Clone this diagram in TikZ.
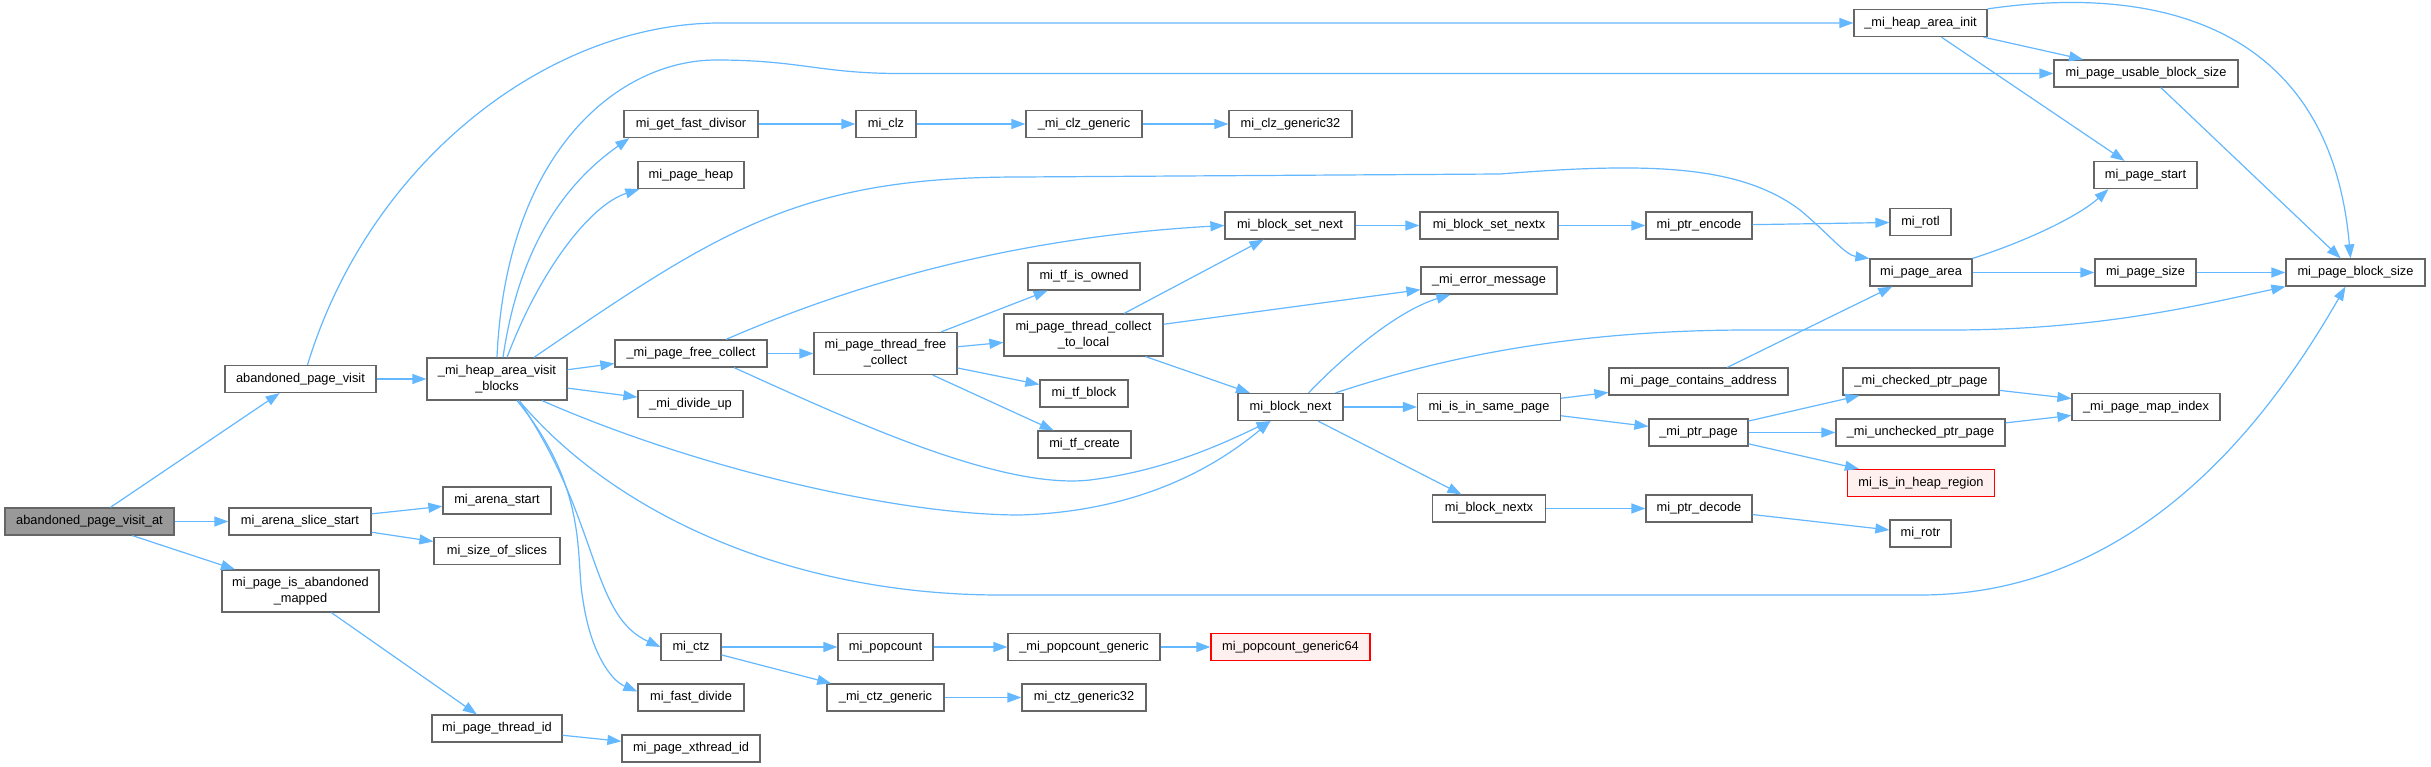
\documentclass[tikz,border=0pt]{standalone}
\usepackage{fontspec}
\setmainfont{Liberation Sans}
\usepackage{xcolor}
\usepackage{tikz}
\usetikzlibrary{arrows.meta}

\definecolor{edgeblue}{HTML}{63B8FF}
\definecolor{boxgray}{HTML}{666666}
\definecolor{rootgray}{HTML}{999999}
\definecolor{truncfill}{HTML}{FFF0F0}

\begin{document}
\begin{tikzpicture}[
  x=1pt, y=-1pt,
  font=\fontsize{12.8}{16}\selectfont,
  fn/.style={
    rectangle,
    draw=boxgray,
    fill=white,
    line width=1.2pt,
    inner xsep=0pt,
    inner ysep=0pt,
    minimum height=27pt,
    align=center
  },
  twoline/.style={fn, minimum height=42pt},
  root/.style={fn, fill=rootgray},
  trunc/.style={fn, draw=red, fill=truncfill},
  call/.style={
    -{Triangle[length=14pt, width=10pt]},
    line width=1.2pt,
    draw=edgeblue
  }
]
\useasboundingbox[fill=white] (0,0) rectangle (2431,767);

\node[root, minimum width=169pt] (apva) at (89.5,521.5) {abandoned\_page\_visit\_at};
\node[fn, minimum width=151pt] (apv) at (300.5,379) {abandoned\_page\_visit};
\node[fn, minimum width=142pt] (mass) at (300,521.5) {mi\_arena\_slice\_start};
\node[twoline, minimum width=157pt] (mpiam) at (300.5,591) {mi\_page\_is\_abandoned\\\_mapped};
\node[twoline, minimum width=140pt] (hav) at (497,379) {\_mi\_heap\_area\_visit\\\_blocks};
\node[fn, minimum width=108pt] (arst) at (497,500.5) {mi\_arena\_start};
\node[fn, minimum width=126pt] (sos) at (497,551) {mi\_size\_of\_slices};
\node[fn, minimum width=130pt] (ptid) at (497,728.5) {mi\_page\_thread\_id};

\node[fn, minimum width=134pt] (gfd) at (691,124) {mi\_get\_fast\_divisor};
\node[fn, minimum width=106pt] (pheap) at (691,175) {mi\_page\_heap};
\node[fn, minimum width=152pt] (pfc) at (691,353.5) {\_mi\_page\_free\_collect};
\node[fn, minimum width=105pt] (dup) at (690.5,404) {\_mi\_divide\_up};
\node[fn, minimum width=60pt] (ctz) at (691,647) {mi\_ctz};
\node[fn, minimum width=106pt] (fdiv) at (691,697.5) {mi\_fast\_divide};
\node[fn, minimum width=138pt] (pxtid) at (691,748.5) {mi\_page\_xthread\_id};

\node[fn, minimum width=60pt] (clz) at (886,124) {mi\_clz};
\node[twoline, minimum width=143pt] (ptfc) at (885.5,353.5) {mi\_page\_thread\_free\\\_collect};
\node[fn, minimum width=95pt] (popc) at (885.5,647) {mi\_popcount};
\node[fn, minimum width=117pt] (ctzg) at (885.5,697.5) {\_mi\_ctz\_generic};

\node[fn, minimum width=116pt] (clzg) at (1084,124) {\_mi\_clz\_generic};
\node[fn, minimum width=112pt] (tfown) at (1084,276.5) {mi\_tf\_is\_owned};
\node[twoline, minimum width=159pt] (ptctl) at (1083.5,335) {mi\_page\_thread\_collect\\\_to\_local};
\node[fn, minimum width=88pt] (tfblk) at (1084,393.5) {mi\_tf\_block};
\node[fn, minimum width=93pt] (tfcr) at (1084.5,444.5) {mi\_tf\_create};
\node[fn, minimum width=152pt] (popcg) at (1084,647) {\_mi\_popcount\_generic};
\node[fn, minimum width=124pt] (ctzg32) at (1084,697.5) {mi\_ctz\_generic32};

\node[fn, minimum width=123pt] (clzg32) at (1290.5,124) {mi\_clz\_generic32};
\node[fn, minimum width=130pt] (bsn) at (1290,225.5) {mi\_block\_set\_next};
\node[fn, minimum width=105pt] (bnext) at (1290.5,407) {mi\_block\_next};
\node[trunc, minimum width=159pt] (popcg64) at (1290.5,647) {mi\_popcount\_generic64};

\node[fn, minimum width=138pt] (bsnx) at (1489,225.5) {mi\_block\_set\_nextx};
\node[fn, minimum width=136pt] (errm) at (1489,280.5) {\_mi\_error\_message};
\node[fn, minimum width=143pt] (isp) at (1489,407) {mi\_is\_in\_same\_page};
\node[fn, minimum width=113pt] (bnx) at (1489,508.5) {mi\_block\_nextx};

\node[fn, minimum width=106pt] (penc) at (1699,225.5) {mi\_ptr\_encode};
\node[fn, minimum width=179pt] (pca) at (1698.5,381.5) {mi\_page\_contains\_address};
\node[fn, minimum width=99pt] (ptrp) at (1698.5,432.5) {\_mi\_ptr\_page};
\node[fn, minimum width=106pt] (pdec) at (1699,508.5) {mi\_ptr\_decode};

\node[fn, minimum width=133pt] (hinit) at (1920.5,23) {\_mi\_heap\_area\_init};
\node[fn, minimum width=61pt] (rotl) at (1920.5,222) {mi\_rotl};
\node[fn, minimum width=102pt] (parea) at (1921,272.5) {mi\_page\_area};
\node[fn, minimum width=156pt] (chk) at (1921,381.5) {\_mi\_checked\_ptr\_page};
\node[fn, minimum width=169pt] (unchk) at (1920.5,432.5) {\_mi\_unchecked\_ptr\_page};
\node[trunc, minimum width=147pt] (ihr) at (1921,483) {mi\_is\_in\_heap\_region};
\node[fn, minimum width=61pt] (rotr) at (1920.5,533.5) {mi\_rotr};

\node[fn, minimum width=184pt] (publ) at (2146,73.5) {mi\_page\_usable\_block\_size};
\node[fn, minimum width=103pt] (pstart) at (2145.5,175) {mi\_page\_start};
\node[fn, minimum width=101pt] (psize) at (2145.5,272.5) {mi\_page\_size};
\node[fn, minimum width=148pt] (pmi) at (2146,407) {\_mi\_page\_map\_index};
\node[fn, minimum width=139pt] (pbs) at (2355.5,272.5) {mi\_page\_block\_size};

% calls out of the root
\draw[call] (apva) -- (apv);
\draw[call] (apva) -- (mass);
\draw[call] (apva) -- (mpiam);
\draw[call] ([xshift=7pt]apv.north) .. controls (370,160) and (550,23) .. (720,23) -- (hinit);
\draw[call] (apv) -- (hav);
\draw[call] (mass) -- (arst);
\draw[call] (mass) -- (sos);
\draw[call] (mpiam) -- (ptid);
\draw[call] (ptid) -- (pxtid);

% visit blocks
\draw[call] (hav.north) .. controls (506,150) and (620,60) .. (716,60) .. controls (800,60) and (820,73.5) .. (900,73.5) -- (publ);
\draw[call] ([xshift=6pt]hav.north) .. controls (520,240) and (570,180) .. ([xshift=6pt]gfd.south west);
\draw[call] ([xshift=10pt]hav.north) .. controls (540,270) and (590,205) .. ([xshift=2pt]pheap.south west);
\draw[call] ([xshift=37pt]hav.north) .. controls (720,230) and (800,177) .. (1020,177) -- (1500,174) .. controls (1650,162) and (1740,165) .. (1800,210) .. controls (1830,235) and (1845,255) .. (parea.north west);
\draw[call] (hav) -- (pfc);
\draw[call] (hav) -- (dup);
\draw[call] ([xshift=45pt]hav.south) .. controls (700,470) and (900,515) .. (1020,515) .. controls (1120,512) and (1200,480) .. ([xshift=-20pt]bnext.south);
\draw[call] ([xshift=22pt]hav.south) .. controls (620,520) and (800,595) .. (1000,595) -- (1920,595) .. controls (2150,595) and (2280,400) .. ([xshift=-10pt]pbs.south);
\draw[call] ([xshift=22pt]hav.south) .. controls (600,520) and (590,615) .. (ctz.west);
\draw[call] ([xshift=20pt]hav.south) .. controls (590,490) and (575,560) .. (583,600) .. controls (590,650) and (610,680) .. ([yshift=6pt]fdiv.west);

\draw[call] ([xshift=35pt]pfc.north) .. controls (840,290) and (1000,238) .. (bsn.west);
\draw[call] (pfc) -- (ptfc);
\draw[call] ([xshift=43pt]pfc.south) .. controls (850,420) and (1000,490) .. (1090,480) .. controls (1170,470) and (1230,440) .. ([xshift=-20pt]bnext.south);

\draw[call] (ptfc) -- (tfown);
\draw[call] (ptfc) -- (ptctl);
\draw[call] (ptfc) -- (tfblk);
\draw[call] (ptfc) -- (tfcr);
\draw[call] (ptctl) -- (bsn);
\draw[call] (ptctl) -- (errm);
\draw[call] (ptctl) -- (bnext);
\draw[call] (bsn) -- (bsnx);
\draw[call] (bsnx) -- (penc);
\draw[call] (penc) -- (rotl);

% block next
\draw[call] ([xshift=18pt]bnext.north) .. controls (1350,350) and (1400,310) .. ([xshift=30pt]errm.south west);
\draw[call] ([xshift=45pt]bnext.north) .. controls (1420,365) and (1550,330) .. (1750,330) -- (1950,330) .. controls (2100,330) and (2200,305) .. (pbs.south west);
\draw[call] (bnext) -- (isp);
\draw[call] (bnext) -- (bnx);
\draw[call] (isp) -- (pca);
\draw[call] (isp) -- (ptrp);
\draw[call] (pca) -- (parea);
\draw[call] (ptrp) -- (chk);
\draw[call] (ptrp) -- (unchk);
\draw[call] (ptrp) -- (ihr);
\draw[call] (chk) -- (pmi);
\draw[call] (unchk) -- (pmi);
\draw[call] (bnx) -- (pdec);
\draw[call] (pdec) -- (rotr);

% page sizes
\draw[call] (parea.north east) .. controls (2030,240) and (2080,215) .. ([xshift=15pt]pstart.south west);
\draw[call] (parea) -- (psize);
\draw[call] (psize) -- (pbs);
\draw[call] (hinit) -- (publ);
\draw[call] (hinit) -- (pstart);
\draw[call] (hinit.north east) .. controls (2150,-15) and (2330,20) .. ([xshift=-5pt]pbs.north);
\draw[call] (publ) -- (pbs);

% bit helpers
\draw[call] (gfd) -- (clz);
\draw[call] (clz) -- (clzg);
\draw[call] (clzg) -- (clzg32);
\draw[call] (ctz) -- (popc);
\draw[call] (ctz) -- (ctzg);
\draw[call] (popc) -- (popcg);
\draw[call] (popcg) -- (popcg64);
\draw[call] (ctzg) -- (ctzg32);

\end{tikzpicture}
\end{document}
